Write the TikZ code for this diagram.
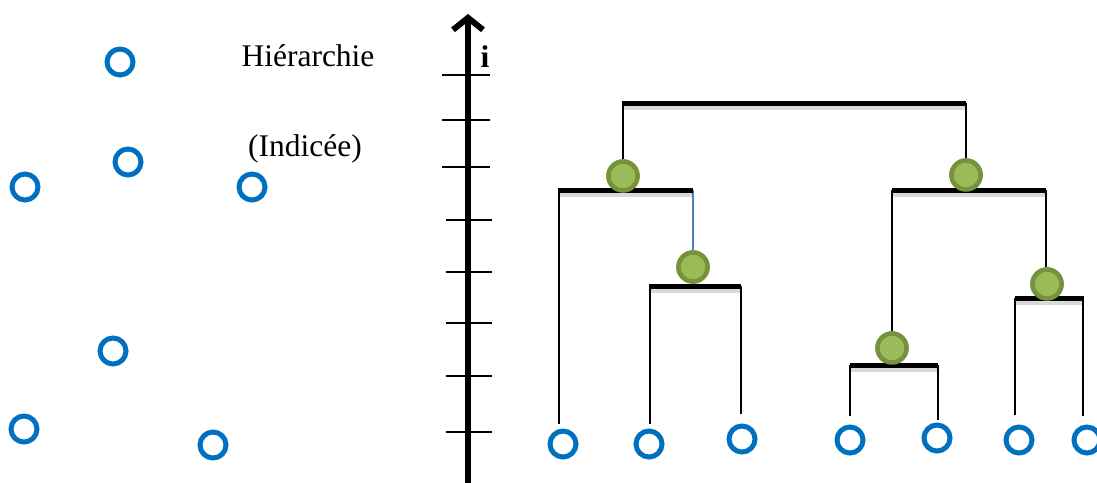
\documentclass[tikz,border=0pt]{standalone}
\usepackage{fontspec}
\setmainfont{Liberation Serif}
\usetikzlibrary{arrows.meta}
\definecolor{cblue}{HTML}{0070C0}
\definecolor{gfill}{HTML}{9BBB59}
\definecolor{gdraw}{HTML}{76923C}
\definecolor{lblue}{HTML}{4F81BD}
\tikzset{
  leaf/.style={circle,draw=cblue,line width=5pt,minimum size=26pt,inner sep=0pt},
  merge/.style={circle,fill=gfill,draw=gdraw,line width=4.5pt,minimum size=29pt,inner sep=0pt},
  bar/.style={line width=5pt,line cap=butt},
  shadowbar/.style={line width=6pt,black!15,line cap=butt},
  stem/.style={line width=1.8pt},
  tick/.style={line width=2pt},
  lbl/.style={font=\fontsize{31.5}{36}\selectfont,inner sep=0pt}
}
\begin{document}
\begin{tikzpicture}[x=1pt,y=-1pt]
\useasboundingbox (0,0) rectangle (1097,482);
% left scattered points
\node[leaf] (p1) at (120,62) {};
\node[leaf] (p2) at (128,162) {};
\node[leaf] (p3) at (25,187) {};
\node[leaf] (p4) at (252,187) {};
\node[leaf] (p5) at (113,351) {};
\node[leaf] (p6) at (24,429) {};
\node[leaf] (p7) at (213,445) {};
% labels
\node[lbl] (t1) at (308,56) {Hiérarchie};
\node[lbl] (t2) at (305,149) {(Indicée)};
\node[lbl,font=\fontsize{31.5}{36}\selectfont\bfseries] (ti) at (485,57) {i};
% axis
\coordinate (ab) at (468,495);
\coordinate (at) at (468,14);
\foreach \y/\a/\b in {75/442/490,120/442/490,167/442/490,220/446/492,272/446/492,323/446/492,376/446/492,432/446/492}
  \draw[tick] (\a,\y) -- (\b,\y);
\draw[line width=6pt,-{Straight Barb[length=12pt,width=30pt]}] (ab) -- (at);
% shadows
\foreach \a/\b/\y in {622/966/107,558/693/194,649/741/290,892/1046/194,850/938/369,1015/1084/302}
  \draw[shadowbar] (\a,\y) -- (\b,\y);
% bottom leaves
\node[leaf] (l1) at (563,444) {};
\node[leaf] (l2) at (649,444) {};
\node[leaf] (l3) at (742,439) {};
\node[leaf] (l4) at (850,440) {};
\node[leaf] (l5) at (937,438) {};
\node[leaf] (l6) at (1019,440) {};
\node[leaf] (l7) at (1087,440) {};
% merge nodes
\node[merge] (m1) at (623,176) {};
\node[merge] (m2) at (693,267) {};
\node[merge] (m3) at (966,175) {};
\node[merge] (m4) at (1047,284) {};
\node[merge] (m5) at (892,348) {};
% bar coordinates
\coordinate (b0l) at (622,103); \coordinate (b0r) at (966,103);
\coordinate (b1l) at (558,190); \coordinate (b1r) at (693,190);
\coordinate (b2l) at (649,286); \coordinate (b2r) at (741,286);
\coordinate (b3l) at (892,190); \coordinate (b3r) at (1046,190);
\coordinate (b5l) at (850,365); \coordinate (b5r) at (938,365);
\coordinate (b4l) at (1015,298); \coordinate (b4r) at (1084,298);
% stems
\draw[stem] ([xshift=1pt]b0l) -- ([xshift=1pt]b0l |- m1.north);
\draw[stem] (b0r) -- (b0r |- m3.north);
\draw[stem] ([xshift=1pt]b1l) -- (559,424);
\draw[line width=1.5pt,lblue] (b1r) -- (b1r |- m2.north);
\draw[stem] ([xshift=1pt]b2l) -- (650,424);
\draw[stem] (b2r) -- (741,414);
\draw[stem] (b3l) -- (b3l |- m5.north);
\draw[stem] (b3r) -- (b3r |- m4.north);
\draw[stem] (b5l) -- (850,416);
\draw[stem] (b5r) -- (938,420);
\draw[stem] (b4l) -- (1015,415);
\draw[stem] (1083,298) -- (1083,416);
% bars
\draw[bar] (b0l) -- (b0r);
\draw[bar] (b1l) -- (b1r);
\draw[bar] (b2l) -- (b2r);
\draw[bar] (b3l) -- (b3r);
\draw[bar] (b5l) -- (b5r);
\draw[bar] (b4l) -- (b4r);
% redraw merge nodes on top
\node[merge] at (m1) {};
\node[merge] at (m2) {};
\node[merge] at (m3) {};
\node[merge] at (m4) {};
\node[merge] at (m5) {};
\end{tikzpicture}
\end{document}
